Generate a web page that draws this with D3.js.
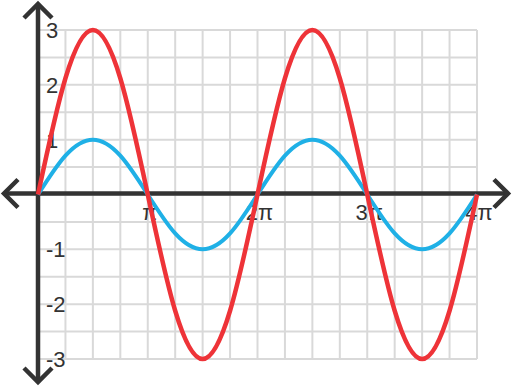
<!DOCTYPE html>
<html>
<head>
<script src="https://d3js.org/d3.v7.min.js"></script>
<style>
  body { margin: 0; background: #fff; }
  text { font-family: "Liberation Sans", Arial, sans-serif; fill: #333; }
</style>
</head>
<body>
<script>
// x positions in multiples of pi/4 (0 .. 16)
var steps = d3.range(0, 17);
// values at each pi/4 step
var blueVals = [0, 0.71, 1, 0.71, 0, -0.71, -1, -0.71, 0, 0.71, 1, 0.71, 0, -0.71, -1, -0.71, 0];
var redVals  = [0, 2.12, 3, 2.12, 0, -2.12, -3, -2.12, 0, 2.12, 3, 2.12, 0, -2.12, -3, -2.12, 0];
var yTicks = [3, 2, 1, -1, -2, -3];
var xTicks = [4, 8, 12, 16];
var xTickLabels = ["π", "2π", "3π", "4π"];

var W = 512, H = 386;
var svg = d3.select("body").append("svg")
    .attr("width", W)
    .attr("height", H);

var x = d3.scaleLinear().domain([0, 16]).range([38, 477]);
var y = d3.scaleLinear().domain([-3, 3]).range([359, 30]);

// grid
var grid = svg.append("g")
    .attr("stroke", "#d9d9d9")
    .attr("stroke-width", 2);
grid.selectAll("line.v")
    .data(steps)
    .enter().append("line")
    .attr("x1", d => x(d)).attr("x2", d => x(d))
    .attr("y1", y(3)).attr("y2", y(-3));
grid.selectAll("line.h")
    .data(d3.range(-6, 7).map(d => d / 2))
    .enter().append("line")
    .attr("x1", x(0)).attr("x2", x(16))
    .attr("y1", d => y(d)).attr("y2", d => y(d));

// labels
svg.selectAll("text.y")
    .data(yTicks)
    .enter().append("text")
    .attr("x", 46)
    .attr("y", d => y(d) + 8)
    .attr("font-size", 22)
    .text(d => d);
svg.selectAll("text.x")
    .data(xTicks)
    .enter().append("text")
    .attr("x", d => x(d) + 2)
    .attr("y", 220)
    .attr("text-anchor", "middle")
    .attr("font-size", 22)
    .text((d, i) => xTickLabels[i]);

// axes with arrows
var axis = svg.append("g")
    .attr("stroke", "#333")
    .attr("stroke-width", 4.5)
    .attr("fill", "none")
    .attr("stroke-linecap", "butt");
var y0 = y(0) - 1, x0 = x(0);
axis.append("line").attr("x1", 4).attr("x2", 508).attr("y1", y0).attr("y2", y0);
axis.append("line").attr("x1", x0).attr("x2", x0).attr("y1", 4).attr("y2", 382);
var a = 14;
axis.append("path").attr("d", `M${4 + a},${y0 - a}L4,${y0}L${4 + a},${y0 + a}`);
axis.append("path").attr("d", `M${508 - a},${y0 - a}L508,${y0}L${508 - a},${y0 + a}`);
axis.append("path").attr("d", `M${x0 - a},${4 + a}L${x0},4L${x0 + a},${4 + a}`);
axis.append("path").attr("d", `M${x0 - a},${382 - a}L${x0},382L${x0 + a},${382 - a}`);

// curves
var line = d3.line().curve(d3.curveNatural);
svg.append("path")
    .attr("d", line(steps.map(i => [x(i), y(blueVals[i])])))
    .attr("fill", "none")
    .attr("stroke", "#1fb0e6")
    .attr("stroke-width", 4);
svg.append("path")
    .attr("d", line(steps.map(i => [x(i), y(redVals[i])])))
    .attr("fill", "none")
    .attr("stroke", "#ee3338")
    .attr("stroke-width", 4.5);
</script>
</body>
</html>
